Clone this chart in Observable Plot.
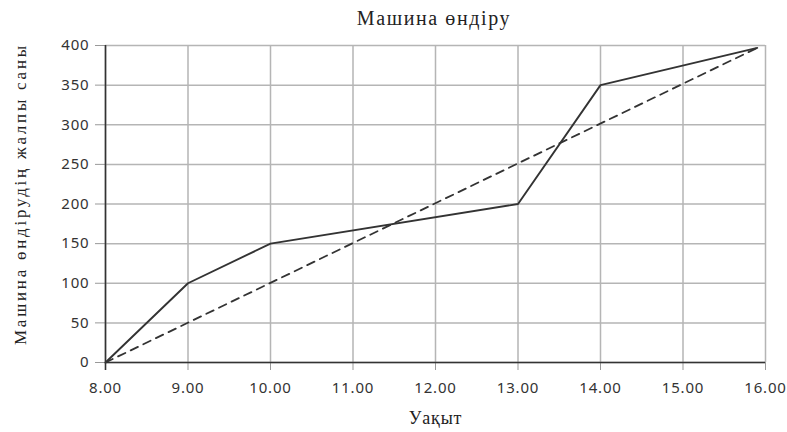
<!DOCTYPE html>
<html>
<head>
<meta charset="utf-8">
<script src="https://cdn.jsdelivr.net/npm/d3@7"></script>
<script src="https://cdn.jsdelivr.net/npm/@observablehq/plot@0.6"></script>
<style>
  html, body { margin: 0; padding: 0; background: #fff; }
  #title { height: 28px; box-sizing: border-box; padding-top: 6px; text-align: center; padding-left: 81px;
           font-family: "Liberation Serif", serif; font-size: 20px; letter-spacing: 1.6px; line-height: 24px; color: #222; overflow: visible; }
</style>
</head>
<body>
<div id="title">Машина өндіру</div>
<div id="chart"></div>
<script>
const title = "Машина өндіру";
const xLabel = "Уақыт";
const yLabel = "Машина өндірудің жалпы саны";
// actual production (solid line)
const actualHours = [8, 9, 10, 13, 14, 15.9];
const actualCars = [0, 100, 150, 200, 350, 397];
// planned production (dashed line)
const planHours = [8, 15.9];
const planCars = [0, 397];
// ticks
const xTicks = [8, 9, 10, 11, 12, 13, 14, 15, 16];
const yTicks = [0, 50, 100, 150, 200, 250, 300, 350, 400];

const actual = actualHours.map((h, i) => ({h, v: actualCars[i]}));
const plan = planHours.map((h, i) => ({h, v: planCars[i]}));

const tickFont = '"Noto Sans", sans-serif';
const chart = Plot.plot({
  width: 787,
  height: 404,
  marginLeft: 105,
  marginRight: 22,
  marginTop: 17,
  marginBottom: 70,
  style: {background: "transparent", fontFamily: tickFont, letterSpacing: "0.8px", overflow: "visible"},
  x: {domain: [8, 16]},
  y: {domain: [0, 400]},
  marks: [
    Plot.gridX(xTicks, {stroke: "#b5b5b5", strokeOpacity: 1, strokeWidth: 1.5}),
    Plot.gridY(yTicks, {stroke: "#b5b5b5", strokeOpacity: 1, strokeWidth: 1.5}),
    Plot.axisX(xTicks, {tickSize: 8, tickPadding: 12, stroke: "#999", fill: "#333", fontSize: 15,
      tickFormat: d => d.toFixed(2), label: null}),
    Plot.axisX([8], {tickSize: 8, stroke: "#333", strokeWidth: 1.6, tickFormat: () => "", label: null}),
    Plot.axisY(yTicks, {tickSize: 10, tickPadding: 6, stroke: "#999", fill: "#333", fontSize: 15, label: null}),
    Plot.ruleY([0], {stroke: "#333", strokeWidth: 1.6}),
    Plot.ruleX([8], {stroke: "#333", strokeWidth: 1.6}),
    Plot.line(plan, {x: "h", y: "v", stroke: "#333", strokeWidth: 1.8, strokeDasharray: "8,6"}),
    Plot.line(actual, {x: "h", y: "v", stroke: "#333", strokeWidth: 1.9}),
    Plot.text([xLabel], {text: d => d, frameAnchor: "bottom", dy: 61, fontFamily: '"Liberation Serif", serif', fontSize: 18, fill: "#222"}),
    Plot.text([yLabel], {text: d => d, frameAnchor: "left", textAnchor: "middle", dx: -85, dy: -9, rotate: -90,
      fontFamily: '"Liberation Serif", serif', fontSize: 17, fill: "#222"})
  ]
});
d3.select(chart).selectAll("text").filter(function() { return this.textContent === yLabel; })
  .attr("textLength", 300).attr("lengthAdjust", "spacing");
document.getElementById("chart").appendChild(chart);
</script>
</body>
</html>
